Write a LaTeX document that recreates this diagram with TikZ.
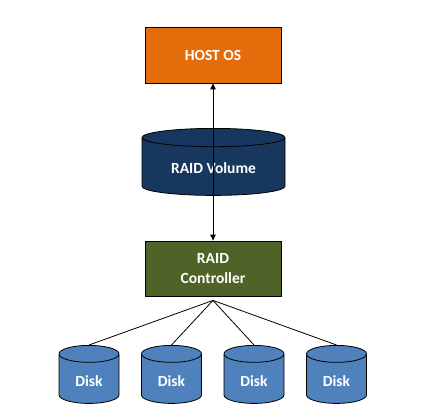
\documentclass[tikz,border=0pt]{standalone}
\usepackage{fontspec}
\setsansfont{Carlito}
\usetikzlibrary{arrows.meta,shapes.geometric}
\definecolor{hostorange}{HTML}{E46C0A}
\definecolor{volnavy}{HTML}{17375E}
\definecolor{ctrlolive}{HTML}{4F6228}
\definecolor{diskblue}{HTML}{4F81BD}

\begin{document}
\begin{tikzpicture}[x=1pt,y=-1pt]
	\useasboundingbox (0,0) rectangle (427,419);
	\begin{scope}[every node/.style = {draw=black, line width=0.8pt, text=white, align=center,
			font=\sffamily\bfseries\fontsize{15.5}{20}\selectfont},
		box/.style = {rectangle, minimum width=136pt},
		drum/.style = {cylinder, shape border rotate=90, anchor=north}]
		\node[box, fill=hostorange, minimum height=56pt] (H) at (213,55) {HOST OS};
		\node[drum, fill=volnavy, aspect=0.2, minimum width=143pt, minimum height=67pt] (V) at (213.5,128) {RAID Volume};
		\node[box, fill=ctrlolive, minimum height=55pt] (C) at (213,268.5) {RAID\\Controller};
		\foreach \x/\n in {89/1, 171.5/2, 254/3, 336.5/4}
			\node[drum, fill=diskblue, aspect=0.5, minimum width=60pt, minimum height=58pt] (D\n) at (\x,345) {Disk};
	\end{scope}
	\coordinate (T) at ([yshift=-4pt]C.south);
	\begin{scope}[>={Triangle[length=6pt, width=5.5pt]},
			every edge/.style={draw=black, line width=0.8pt}]
		\path [<->] (H.south) edge (C.north);
		\foreach \n in {1,...,4}
			\path (T) edge (D\n.north);
	\end{scope}
\end{tikzpicture}
\end{document}
